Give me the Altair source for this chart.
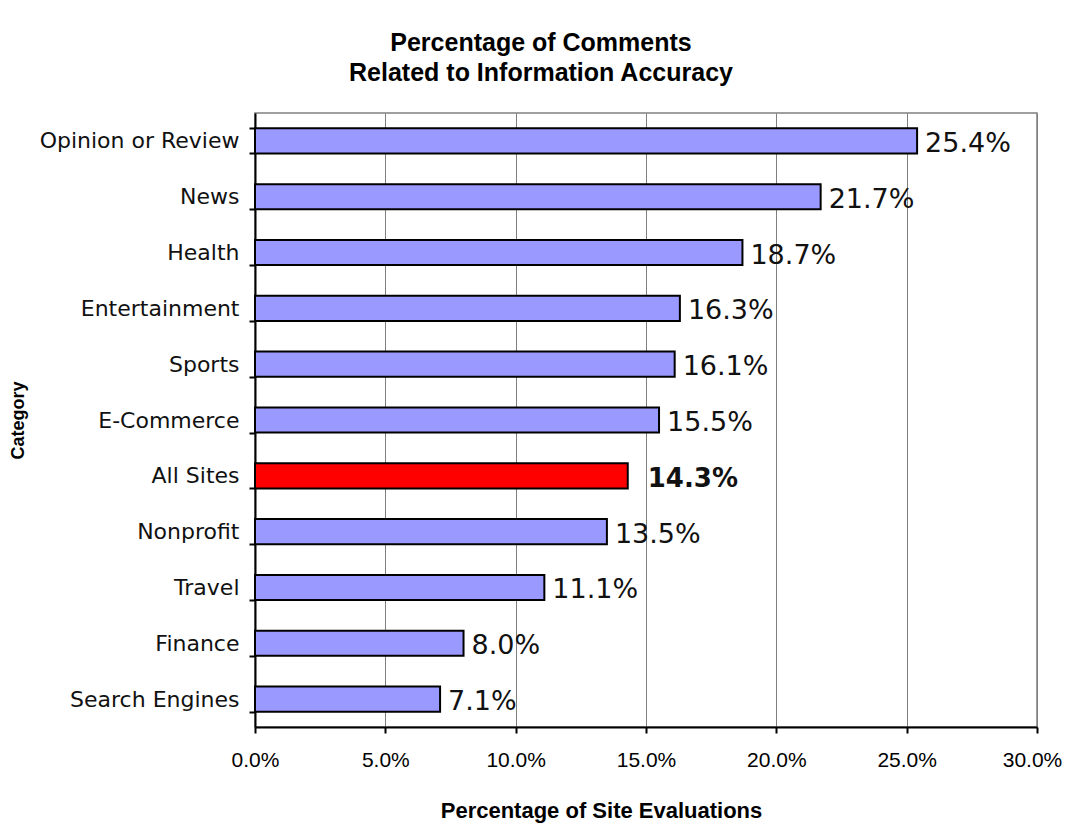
import altair as alt
import pandas as pd

categories = ["Opinion or Review", "News", "Health", "Entertainment", "Sports",
              "E-Commerce", "All Sites", "Nonprofit", "Travel", "Finance", "Search Engines"]
values = [0.254, 0.217, 0.187, 0.163, 0.161, 0.155, 0.143, 0.135, 0.111, 0.080, 0.071]
highlight = "All Sites"
x_ticks = [0.0, 0.05, 0.10, 0.15, 0.20, 0.25, 0.30]

df = pd.DataFrame({"Category": categories, "Value": values})

W, H = 782, 614

y_enc = alt.Y("Category:N", sort=categories,
              scale=alt.Scale(paddingInner=0.55, paddingOuter=0.275),
              axis=alt.Axis(title="Category", tickBand="extent", grid=False, labelLimit=0,
                            labelFont="DejaVu Sans", labelFontSize=22, labelColor="#111",
                            labelPadding=10, tickSize=6, tickColor="black", tickWidth=2,
                            domainColor="black", domainWidth=2,
                            titleFont="Liberation Sans", titleFontSize=18, titleFontWeight="bold",
                            titleColor="black", titleAngle=270, titleX=-237, titleY=H / 2,
                            titleAlign="center", titleBaseline="middle"))

x_enc = alt.X("Value:Q", scale=alt.Scale(domain=[0, 0.3], nice=False),
              axis=alt.Axis(title="Percentage of Site Evaluations", values=x_ticks, format=".1%",
                            grid=True, gridColor="#808080", gridWidth=1, labelFlush=False,
                            labelFont="Liberation Sans", labelFontSize=21, labelColor="black",
                            labelPadding=16, labelBaseline="top",
                            labelOffset={"condition": {"test": "datum.value >= 0.3", "value": -5},
                                         "value": 0},
                            tickSize=6, tickColor="black", tickWidth=2,
                            domainColor="black", domainWidth=2,
                            titleFont="Liberation Sans", titleFontSize=22, titleFontWeight="bold",
                            titleColor="black", titleX=346, titleY=90, titleBaseline="alphabetic"))

bars = alt.Chart(df).mark_bar(stroke="black", strokeWidth=2).encode(
    y=y_enc, x=x_enc,
    color=alt.condition(alt.datum.Category == highlight, alt.value("#FF0000"), alt.value("#9999FF")),
)

labels = alt.Chart(df).transform_filter(alt.datum.Category != highlight).mark_text(
    align="left", baseline="middle", dx=8, dy=3, font="DejaVu Sans", fontSize=27, color="#111"
).encode(y=alt.Y("Category:N", sort=categories), x="Value:Q", text=alt.Text("Value:Q", format=".1%"))

hl_label = alt.Chart(df).transform_filter(alt.datum.Category == highlight).mark_text(
    align="left", baseline="middle", dx=20, dy=3, font="DejaVu Sans", fontSize=26,
    fontWeight="bold", color="#111"
).encode(y=alt.Y("Category:N", sort=categories), x="Value:Q", text=alt.Text("Value:Q", format=".1%"))

chart = alt.layer(bars, labels, hl_label).properties(
    width=W, height=H,
    title=alt.TitleParams(["Percentage of Comments", "Related to Information Accuracy"],
                          font="Liberation Sans", fontSize=25, fontWeight="bold", color="black",
                          lineHeight=30, anchor="middle", dx=-105, offset=16),
    autosize=alt.AutoSizeParams(type="none"),
    padding={"left": 247, "top": 105, "right": 26, "bottom": 96},
).configure_view(stroke="#808080", strokeWidth=1.5)

chart.save("out.html", embed_options={"renderer": "svg", "actions": False})
